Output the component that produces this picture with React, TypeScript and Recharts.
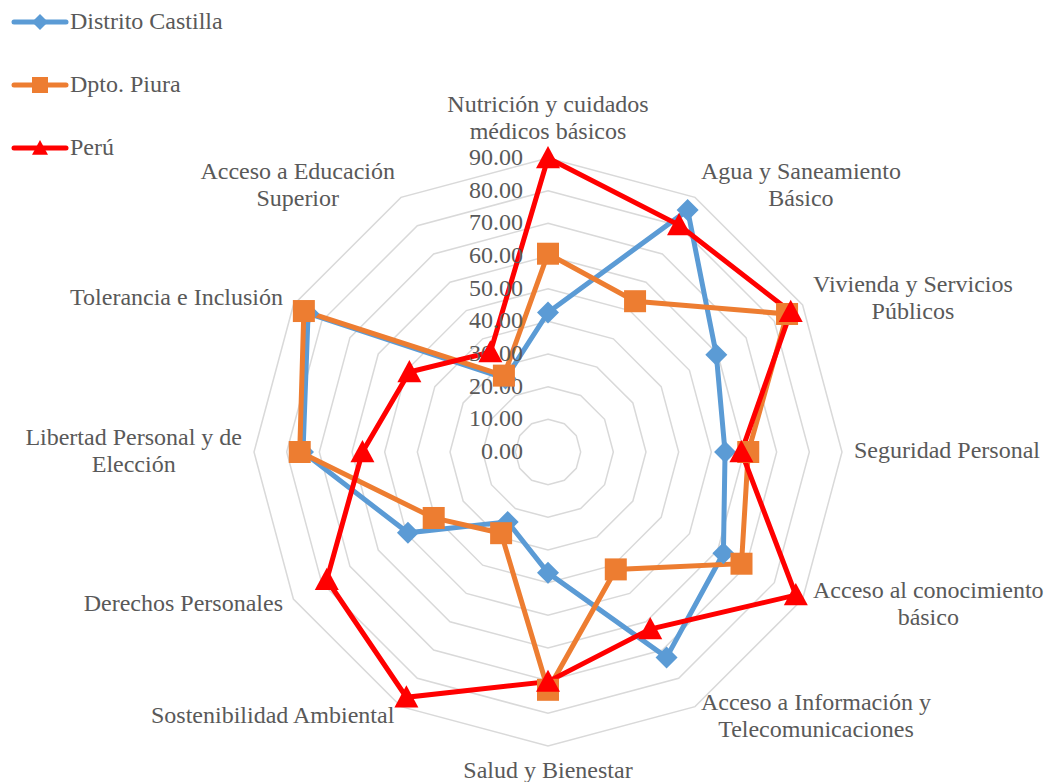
import React from 'react'
import { RadarChart, Radar, PolarGrid, PolarAngleAxis, PolarRadiusAxis } from 'recharts'

const categories = [
  'Nutrición y cuidados\nmédicos básicos',
  'Agua y Saneamiento\nBásico',
  'Vivienda y Servicios\nPúblicos',
  'Seguridad Personal',
  'Acceso al conocimiento\nbásico',
  'Acceso a Información y\nTelecomunicaciones',
  'Salud y Bienestar',
  'Sostenibilidad Ambiental',
  'Derechos Personales',
  'Libertad Personal y de\nElección',
  'Tolerancia e Inclusión',
  'Acceso a Educación\nSuperior',
]

const castilla = [42.7, 85.5, 59.5, 54.2, 62.0, 72.6, 37.0, 24.7, 49.5, 75.0, 84.8, 26.0]
const piura = [60.7, 53.3, 84.5, 61.3, 68.4, 41.5, 72.8, 28.7, 40.4, 76.0, 86.3, 27.0]
const peru = [90.0, 80.2, 85.8, 59.2, 87.6, 62.6, 70.3, 86.7, 78.2, 56.8, 49.0, 35.3]

const radiusTicks = [0, 10, 20, 30, 40, 50, 60, 70, 80, 90]

const seriesNames = ['Distrito Castilla', 'Dpto. Piura', 'Perú']

const data = categories.map((c, i) => ({
  name: c,
  castilla: castilla[i],
  piura: piura[i],
  peru: peru[i],
}))

const W = 1051
const H = 782
const CX = 548
const CY = 452
const R = 294
const FONT = '"Liberation Serif", "Times New Roman", serif'
const TEXT = '#595959'
const BLUE = '#5B9BD5'
const ORANGE = '#ED7D31'
const RED = '#FF0000'

let ctx: CanvasRenderingContext2D | null = null
function textWidth(s: string) {
  if (!ctx) ctx = document.createElement('canvas').getContext('2d')
  if (!ctx) return s.length * 11
  ctx.font = `24px ${FONT}`
  return ctx.measureText(s).width
}

function Diamond({ cx, cy, size = 11, color }: any) {
  return <path d={`M${cx},${cy - size}L${cx + size},${cy}L${cx},${cy + size}L${cx - size},${cy}Z`} fill={color} />
}
function Square({ cx, cy, size = 11, color }: any) {
  return <rect x={cx - size} y={cy - size} width={size * 2} height={size * 2} fill={color} />
}
function Triangle({ cx, cy, size = 12, color }: any) {
  return <path d={`M${cx},${cy - size}L${cx + size},${cy + size * 0.85}L${cx - size},${cy + size * 0.85}Z`} fill={color} />
}

const AngleTick = (props: any) => {
  const { x, y, payload } = props
  const dx = x - CX
  const dy = y - CY
  const d = Math.hypot(dx, dy) || 1
  const sx = dx / d
  const sy = dy / d
  const ax = CX + sx * (R + 12)
  const ay = CY + sy * (R + 12) - 2
  const lines = String(payload.value).split('\n')
  const lh = 27
  const bw = Math.max(...lines.map(textWidth))
  let mid = ax
  if (sx > 0.1) mid = ax + bw / 2
  else if (sx < -0.1) mid = ax - bw / 2
  const n = lines.length
  return (
    <text fill={TEXT} fontSize={24} fontFamily={FONT} textAnchor="middle">
      {lines.map((l, i) => {
        let ly: number
        if (Math.abs(sx) <= 0.1 && sy < 0) ly = ay - (n - 1 - i) * lh - lh / 2
        else if (Math.abs(sx) <= 0.1 && sy > 0) ly = ay + lh / 2 + i * lh
        else ly = ay + (i - (n - 1) / 2) * lh
        return (
          <tspan key={i} x={mid} y={ly} dominantBaseline="central">
            {l}
          </tspan>
        )
      })}
    </text>
  )
}

const RadiusTick = (props: any) => {
  const { x, y, payload } = props
  return (
    <text x={x - 25} y={y - 1} fill={TEXT} fontSize={24} fontFamily={FONT} textAnchor="end" dominantBaseline="central">
      {Number(payload.value).toFixed(2)}
    </text>
  )
}

const legendItems = [
  { name: seriesNames[0], color: BLUE, Marker: Diamond, size: 8 },
  { name: seriesNames[1], color: ORANGE, Marker: Square, size: 8 },
  { name: seriesNames[2], color: RED, Marker: Triangle, size: 8 },
]

export default function App() {
  return (
    <div style={{ position: 'absolute', left: 0, top: 0, width: W, height: H, background: '#fff' }}>
      <RadarChart
        width={W}
        height={H}
        data={data}
        cx={CX}
        cy={CY}
        outerRadius={R}
        startAngle={90}
        endAngle={-270}
        margin={{ top: 0, right: 0, bottom: 0, left: 0 }}
      >
        <PolarGrid gridType="polygon" radialLines={false} stroke="#D9D9D9" strokeWidth={1.5} />
        <PolarAngleAxis dataKey="name" tick={<AngleTick />} axisLine={false} tickLine={false} />
        <PolarRadiusAxis
          angle={90}
          domain={[0, 90]}
          ticks={radiusTicks}
          tick={<RadiusTick />}
          axisLine={false}
          tickLine={false}
        />
        <Radar
          name={seriesNames[0]}
          dataKey="castilla"
          stroke={BLUE}
          strokeWidth={5}
          fill="none"
          fillOpacity={0}
          isAnimationActive={false}
          dot={(p: any) => <Diamond key={`c${p.index}`} cx={p.cx} cy={p.cy} color={BLUE} />}
        />
        <Radar
          name={seriesNames[1]}
          dataKey="piura"
          stroke={ORANGE}
          strokeWidth={5}
          fill="none"
          fillOpacity={0}
          isAnimationActive={false}
          dot={(p: any) => <Square key={`p${p.index}`} cx={p.cx} cy={p.cy} color={ORANGE} />}
        />
        <Radar
          name={seriesNames[2]}
          dataKey="peru"
          stroke={RED}
          strokeWidth={5}
          fill="none"
          fillOpacity={0}
          isAnimationActive={false}
          dot={(p: any) => <Triangle key={`r${p.index}`} cx={p.cx} cy={p.cy} color={RED} />}
        />
      </RadarChart>
      <svg width={260} height={170} style={{ position: 'absolute', left: 0, top: 0 }}>
        {legendItems.map((it, i) => {
          const y = 22 + i * 63
          const M = it.Marker
          return (
            <g key={it.name}>
              <line x1={14} y1={y} x2={66} y2={y} stroke={it.color} strokeWidth={5} strokeLinecap="round" />
              <M cx={40} cy={y} size={it.size} color={it.color} />
              <text x={70} y={y - 1} fill={TEXT} fontSize={24} fontFamily={FONT} dominantBaseline="central">
                {it.name}
              </text>
            </g>
          )
        })}
      </svg>
    </div>
  )
}
